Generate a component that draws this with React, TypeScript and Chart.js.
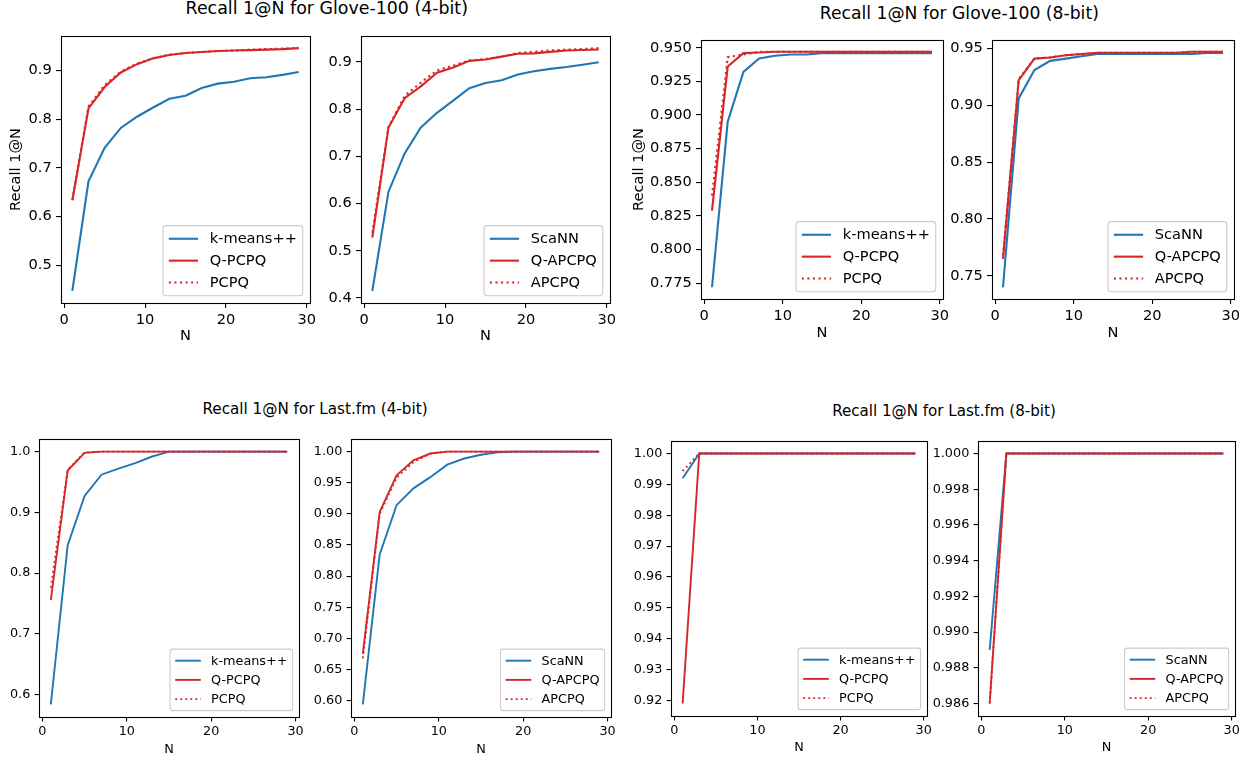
import React, { useEffect, useRef } from 'react';
import { Chart, registerables } from 'chart.js';
Chart.register(...registerables);

// ---------- data ----------
const N = [1, 3, 5, 7, 9, 11, 13, 15, 17, 19, 21, 23, 25, 27, 29];
const xTicks = [0, 10, 20, 30];

// Glove-100 (4-bit)
const gloveKmeans4 = [0.447, 0.672, 0.741, 0.782, 0.805, 0.824, 0.842, 0.848, 0.864, 0.873, 0.877, 0.884, 0.886, 0.891, 0.897];
const gloveQPCPQ4 = [0.633, 0.822, 0.866, 0.896, 0.913, 0.925, 0.932, 0.936, 0.938, 0.940, 0.941, 0.942, 0.943, 0.944, 0.946];
const glovePCPQ4 = [0.634, 0.826, 0.870, 0.898, 0.914, 0.925, 0.933, 0.936, 0.938, 0.940, 0.941, 0.943, 0.944, 0.945, 0.946];
const gloveScaNN4 = [0.415, 0.625, 0.706, 0.761, 0.792, 0.818, 0.844, 0.855, 0.861, 0.873, 0.880, 0.885, 0.889, 0.894, 0.899];
const gloveQAPCPQ4 = [0.528, 0.761, 0.823, 0.848, 0.877, 0.888, 0.902, 0.905, 0.911, 0.917, 0.918, 0.921, 0.924, 0.925, 0.926];
const gloveAPCPQ4 = [0.538, 0.762, 0.828, 0.856, 0.882, 0.892, 0.903, 0.906, 0.911, 0.919, 0.921, 0.924, 0.926, 0.927, 0.929];

// Glove-100 (8-bit)
const gloveKmeans8 = [0.772, 0.895, 0.932, 0.942, 0.944, 0.945, 0.945, 0.946, 0.946, 0.946, 0.946, 0.946, 0.946, 0.946, 0.946];
const gloveQPCPQ8 = [0.829, 0.936, 0.946, 0.9465, 0.947, 0.947, 0.947, 0.947, 0.947, 0.947, 0.947, 0.947, 0.947, 0.947, 0.947];
const glovePCPQ8 = [0.840, 0.943, 0.945, 0.947, 0.947, 0.947, 0.947, 0.947, 0.947, 0.947, 0.947, 0.947, 0.947, 0.947, 0.947];
const gloveScaNN8 = [0.740, 0.906, 0.931, 0.939, 0.941, 0.943, 0.945, 0.945, 0.945, 0.945, 0.945, 0.945, 0.945, 0.946, 0.946];
const gloveQAPCPQ8 = [0.765, 0.922, 0.941, 0.942, 0.944, 0.945, 0.946, 0.946, 0.946, 0.946, 0.946, 0.946, 0.947, 0.947, 0.947];
const gloveAPCPQ8 = [0.768, 0.923, 0.941, 0.942, 0.944, 0.945, 0.946, 0.946, 0.946, 0.946, 0.946, 0.946, 0.947, 0.947, 0.947];

// Last.fm (4-bit)
const lastKmeans4 = [0.584, 0.846, 0.927, 0.962, 0.972, 0.981, 0.992, 1.0, 1.0, 1.0, 1.0, 1.0, 1.0, 1.0, 1.0];
const lastQPCPQ4 = [0.756, 0.969, 0.998, 1.0, 1.0, 1.0, 1.0, 1.0, 1.0, 1.0, 1.0, 1.0, 1.0, 1.0, 1.0];
const lastPCPQ4 = [0.776, 0.970, 0.999, 1.0, 1.0, 1.0, 1.0, 1.0, 1.0, 1.0, 1.0, 1.0, 1.0, 1.0, 1.0];
const lastScaNN4 = [0.594, 0.835, 0.914, 0.941, 0.959, 0.979, 0.989, 0.995, 0.999, 1.0, 1.0, 1.0, 1.0, 1.0, 1.0];
const lastQAPCPQ4 = [0.675, 0.903, 0.962, 0.986, 0.997, 1.0, 1.0, 1.0, 1.0, 1.0, 1.0, 1.0, 1.0, 1.0, 1.0];
const lastAPCPQ4 = [0.668, 0.900, 0.958, 0.983, 0.997, 1.0, 1.0, 1.0, 1.0, 1.0, 1.0, 1.0, 1.0, 1.0, 1.0];

// Last.fm (8-bit)
const lastKmeans8 = [0.992, 1.0, 1.0, 1.0, 1.0, 1.0, 1.0, 1.0, 1.0, 1.0, 1.0, 1.0, 1.0, 1.0, 1.0];
const lastQPCPQ8 = [0.919, 1.0, 1.0, 1.0, 1.0, 1.0, 1.0, 1.0, 1.0, 1.0, 1.0, 1.0, 1.0, 1.0, 1.0];
const lastPCPQ8 = [0.9943, 1.0, 1.0, 1.0, 1.0, 1.0, 1.0, 1.0, 1.0, 1.0, 1.0, 1.0, 1.0, 1.0, 1.0];
const lastScaNN8 = [0.989, 1.0, 1.0, 1.0, 1.0, 1.0, 1.0, 1.0, 1.0, 1.0, 1.0, 1.0, 1.0, 1.0, 1.0];
const lastQAPCPQ8 = [0.986, 1.0, 1.0, 1.0, 1.0, 1.0, 1.0, 1.0, 1.0, 1.0, 1.0, 1.0, 1.0, 1.0, 1.0];
const lastAPCPQ8 = [0.986, 1.0, 1.0, 1.0, 1.0, 1.0, 1.0, 1.0, 1.0, 1.0, 1.0, 1.0, 1.0, 1.0, 1.0];

// tick labels
const yTicksG4a = ['0.5', '0.6', '0.7', '0.8', '0.9'];
const yTicksG4b = ['0.4', '0.5', '0.6', '0.7', '0.8', '0.9'];
const yTicksG8a = ['0.775', '0.800', '0.825', '0.850', '0.875', '0.900', '0.925', '0.950'];
const yTicksG8b = ['0.75', '0.80', '0.85', '0.90', '0.95'];
const yTicksL4a = ['0.6', '0.7', '0.8', '0.9', '1.0'];
const yTicksL4b = ['0.60', '0.65', '0.70', '0.75', '0.80', '0.85', '0.90', '0.95', '1.00'];
const yTicksL8a = ['0.92', '0.93', '0.94', '0.95', '0.96', '0.97', '0.98', '0.99', '1.00'];
const yTicksL8b = ['0.986', '0.988', '0.990', '0.992', '0.994', '0.996', '0.998', '1.000'];

const titles = [
  'Recall 1@N for Glove-100 (4-bit)',
  'Recall 1@N for Glove-100 (8-bit)',
  'Recall 1@N for Last.fm (4-bit)',
  'Recall 1@N for Last.fm (8-bit)',
];

// ---------- styling ----------
const BLUE = '#1f77b4';
const RED = '#d62728';
const FONT = '"DejaVu Sans", sans-serif';

type Series = { label: string; data: number[]; color: string; dash: boolean };
type Panel = {
  frame: [number, number, number, number];
  canvasLeft: number;
  fs: number;
  lw: number;
  tl: number;
  yTicks: string[];
  ylabel?: string;
  ylabelX?: number;
  xlabelY: number;
  series: Series[];
};

const mk = (a: number[], b: number[], c: number[], base: string, q: string, p: string): Series[] => [
  { label: base, data: a, color: BLUE, dash: false },
  { label: q, data: b, color: RED, dash: false },
  { label: p, data: c, color: RED, dash: true },
];

const TOP_FS = 14.6;
const BOT_FS = 12.8;

const panels: Panel[] = [
  { frame: [61, 36, 310, 303], canvasLeft: 0, fs: TOP_FS, lw: 2.1, tl: 5, yTicks: yTicksG4a, ylabel: 'Recall 1@N', ylabelX: 16.4, xlabelY: 336,
    series: mk(gloveKmeans4, gloveQPCPQ4, glovePCPQ4, 'k-means++', 'Q-PCPQ', 'PCPQ') },
  { frame: [361, 36, 610, 303], canvasLeft: 311, fs: TOP_FS, lw: 2.1, tl: 5, yTicks: yTicksG4b, xlabelY: 336,
    series: mk(gloveScaNN4, gloveQAPCPQ4, gloveAPCPQ4, 'ScaNN', 'Q-APCPQ', 'APCPQ') },
  { frame: [701, 40, 943, 299], canvasLeft: 625, fs: TOP_FS, lw: 2.1, tl: 5, yTicks: yTicksG8a, ylabel: 'Recall 1@N', ylabelX: 639.5, xlabelY: 333,
    series: mk(gloveKmeans8, gloveQPCPQ8, glovePCPQ8, 'k-means++', 'Q-PCPQ', 'PCPQ') },
  { frame: [992, 40, 1234, 299], canvasLeft: 942, fs: TOP_FS, lw: 2.1, tl: 5, yTicks: yTicksG8b, xlabelY: 333,
    series: mk(gloveScaNN8, gloveQAPCPQ8, gloveAPCPQ8, 'ScaNN', 'Q-APCPQ', 'APCPQ') },
  { frame: [39, 439, 299, 717], canvasLeft: 0, fs: BOT_FS, lw: 1.9, tl: 4.4, yTicks: yTicksL4a, xlabelY: 749,
    series: mk(lastKmeans4, lastQPCPQ4, lastPCPQ4, 'k-means++', 'Q-PCPQ', 'PCPQ') },
  { frame: [351, 439, 611, 717], canvasLeft: 301, fs: BOT_FS, lw: 1.9, tl: 4.4, yTicks: yTicksL4b, xlabelY: 749,
    series: mk(lastScaNN4, lastQAPCPQ4, lastAPCPQ4, 'ScaNN', 'Q-APCPQ', 'APCPQ') },
  { frame: [671, 441, 927, 716], canvasLeft: 621, fs: BOT_FS, lw: 1.9, tl: 4.4, yTicks: yTicksL8a, xlabelY: 747,
    series: mk(lastKmeans8, lastQPCPQ8, lastPCPQ8, 'k-means++', 'Q-PCPQ', 'PCPQ') },
  { frame: [978, 441, 1235, 716], canvasLeft: 923, fs: BOT_FS, lw: 1.9, tl: 4.4, yTicks: yTicksL8b, xlabelY: 747,
    series: mk(lastScaNN8, lastQAPCPQ8, lastAPCPQ8, 'ScaNN', 'Q-APCPQ', 'APCPQ') },
];

const titlePos = [
  { x: 326.8, baseline: 15, fs: 17.4 },
  { x: 959.3, baseline: 19.3, fs: 17.2 },
  { x: 315, baseline: 415, fs: 15.2 },
  { x: 944, baseline: 416.7, fs: 15.1 },
];

// matplotlib-like margins
const bounds = (vals: number[]) => {
  const lo = Math.min(...vals);
  const hi = Math.max(...vals);
  const m = (hi - lo) * 0.05;
  return [lo - m, hi + m];
};

const framePlugin = {
  id: 'mplFrame',
  afterDatasetsDraw(chart: any) {
    const { ctx, chartArea: ca } = chart;
    ctx.save();
    ctx.strokeStyle = '#000';
    ctx.lineWidth = 1.1;
    ctx.strokeRect(ca.left + 0.5, ca.top + 0.5, ca.right - ca.left, ca.bottom - ca.top);
    ctx.restore();
  },
};

const legendPlugin = {
  id: 'mplLegend',
  afterDraw(chart: any, _args: any, opts: any) {
    const items = opts && opts.items;
    if (!items) return;
    const fs = opts.fs;
    const lw = opts.lw;
    const { ctx, chartArea: ca } = chart;
    ctx.save();
    ctx.font = `${fs}px ${FONT}`;
    const tw = Math.max(...items.map((it: any) => ctx.measureText(it.label).width));
    const w = 3.6 * fs + tw;
    const h = 0.8 * fs + items.length * fs + (items.length - 1) * 0.5 * fs;
    const x = ca.right - 0.5 * fs - w;
    const y = ca.bottom - 0.5 * fs - h;
    const r = 0.2 * fs;
    ctx.beginPath();
    ctx.moveTo(x + r, y);
    ctx.lineTo(x + w - r, y);
    ctx.quadraticCurveTo(x + w, y, x + w, y + r);
    ctx.lineTo(x + w, y + h - r);
    ctx.quadraticCurveTo(x + w, y + h, x + w - r, y + h);
    ctx.lineTo(x + r, y + h);
    ctx.quadraticCurveTo(x, y + h, x, y + h - r);
    ctx.lineTo(x, y + r);
    ctx.quadraticCurveTo(x, y, x + r, y);
    ctx.closePath();
    ctx.fillStyle = 'rgba(255,255,255,0.8)';
    ctx.fill();
    ctx.strokeStyle = '#cccccc';
    ctx.lineWidth = 1.1;
    ctx.stroke();
    items.forEach((it: any, i: number) => {
      const cy = y + 0.4 * fs + fs / 2 + i * 1.5 * fs;
      ctx.beginPath();
      ctx.strokeStyle = it.color;
      ctx.lineWidth = lw;
      ctx.setLineDash(it.dash ? [lw, lw * 1.65] : []);
      ctx.moveTo(x + 0.4 * fs, cy);
      ctx.lineTo(x + 2.4 * fs, cy);
      ctx.stroke();
      ctx.setLineDash([]);
      ctx.fillStyle = '#000';
      ctx.textBaseline = 'middle';
      ctx.textAlign = 'left';
      ctx.fillText(it.label, x + 3.2 * fs, cy + 0.5);
    });
    ctx.restore();
  },
};

const TM = 16;
const RM = 16;

function SubPlot({ p }: { p: Panel }) {
  const ref = useRef<HTMLCanvasElement | null>(null);
  const [L, T, R, B] = p.frame;
  const LM = L - p.canvasLeft;
  const lineH = p.fs * 1.2;
  const BM = Math.round(p.xlabelY + lineH / 2 - B);
  const width = R - L + LM + RM;
  const height = B - T + TM + BM;

  useEffect(() => {
    const canvas = ref.current;
    if (!canvas) return;
    const [xMin, xMax] = bounds(N);
    const allY: number[] = [];
    p.series.forEach((s) => allY.push(...s.data));
    const [yMin, yMax] = bounds(allY);
    const yVals = p.yTicks.map((t) => parseFloat(t));
    const font = { family: FONT, size: p.fs };
    const gridCfg = {
      display: true,
      drawOnChartArea: false,
      drawTicks: true,
      tickLength: p.tl,
      color: '#000',
      lineWidth: 1.1,
    };
    const chart = new Chart(canvas, {
      type: 'line',
      data: {
        datasets: p.series.map((s, i) => ({
          label: s.label,
          data: N.map((x, j) => ({ x, y: s.data[j] })),
          borderColor: s.color,
          backgroundColor: s.color,
          borderWidth: p.lw,
          borderDash: s.dash ? [p.lw, p.lw * 1.65] : [],
          pointRadius: 0,
          pointHoverRadius: 0,
          fill: false,
          tension: 0,
          order: 2 - i,
        })),
      },
      options: {
        responsive: false,
        animation: false,
        devicePixelRatio: 1,
        events: [],
        layout: { padding: { top: TM, right: RM, left: 0, bottom: 0 } },
        plugins: {
          legend: { display: false },
          tooltip: { enabled: false },
          mplLegend: {
            fs: p.fs,
            lw: p.lw,
            items: p.series.map((s) => ({ label: s.label, color: s.color, dash: s.dash })),
          },
        } as any,
        scales: {
          x: {
            type: 'linear',
            min: xMin,
            max: xMax,
            afterBuildTicks: (s: any) => {
              s.ticks = xTicks.map((v) => ({ value: v }));
            },
            afterFit: (s: any) => {
              s.height = BM;
            },
            ticks: {
              font,
              color: '#000',
              padding: 3,
              maxRotation: 0,
              minRotation: 0,
              autoSkip: false,
              callback: (v: any) => String(v),
            },
            grid: gridCfg,
            border: { display: false },
            title: {
              display: true,
              text: 'N',
              font,
              color: '#000',
              padding: { top: 0, bottom: 0 },
            },
          },
          y: {
            type: 'linear',
            min: yMin,
            max: yMax,
            afterBuildTicks: (s: any) => {
              s.ticks = yVals.map((v) => ({ value: v }));
            },
            afterFit: (s: any) => {
              s.width = LM;
            },
            ticks: {
              font,
              color: '#000',
              padding: 4.3,
              autoSkip: false,
              callback: (v: any) => {
                const i = yVals.findIndex((t) => Math.abs(t - v) < 1e-9);
                return i >= 0 ? p.yTicks[i] : '';
              },
            },
            grid: gridCfg,
            border: { display: false },
            title: {
              display: !!p.ylabel,
              text: p.ylabel || '',
              font,
              color: '#000',
              padding: { top: p.ylabel ? (p.ylabelX as number) - p.canvasLeft - lineH / 2 : 0, bottom: 0 },
            },
          },
        },
      } as any,
      plugins: [framePlugin, legendPlugin],
    });
    return () => chart.destroy();
  }, []);

  return (
    <canvas
      ref={ref}
      width={width}
      height={height}
      style={{ position: 'absolute', left: p.canvasLeft, top: T - TM, width, height }}
    />
  );
}

export default function App() {
  return (
    <div
      style={{
        position: 'absolute',
        left: 0,
        top: 0,
        width: 1250,
        height: 759,
        background: '#fff',
        overflow: 'hidden',
        fontFamily: FONT,
      }}
    >
      {titles.map((t, i) => (
        <div
          key={t}
          style={{
            position: 'absolute',
            left: titlePos[i].x,
            top: titlePos[i].baseline - 0.846 * titlePos[i].fs,
            transform: 'translateX(-50%)',
            fontSize: titlePos[i].fs,
            lineHeight: 1,
            whiteSpace: 'nowrap',
            color: '#000',
          }}
        >
          {t}
        </div>
      ))}
      {panels.map((p, i) => (
        <SubPlot key={i} p={p} />
      ))}
    </div>
  );
}
